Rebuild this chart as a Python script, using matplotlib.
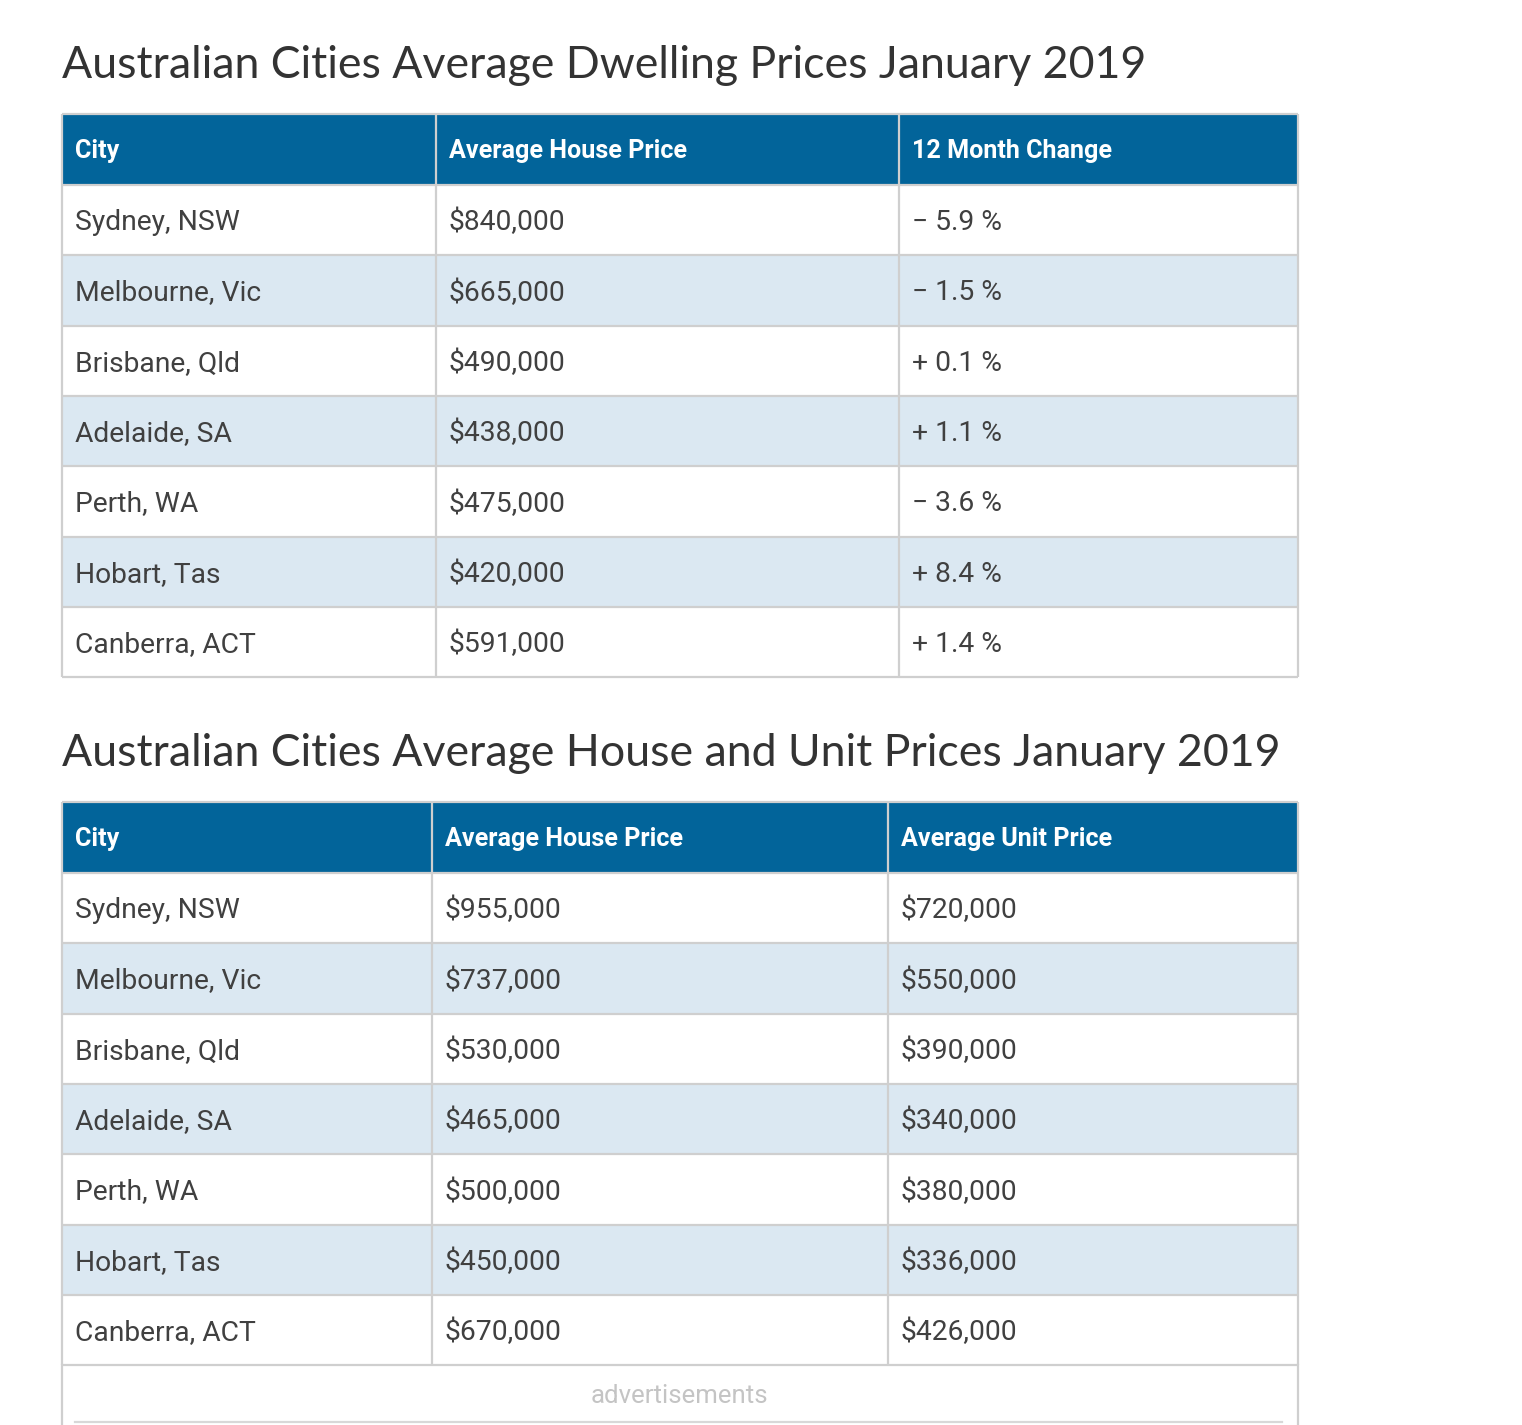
import matplotlib
matplotlib.use("Agg")
import matplotlib.pyplot as plt
from matplotlib.patches import Rectangle

# ---- data ----
title1 = "Australian Cities Average Dwelling Prices January 2019"
headers1 = ["City", "Average House Price", "12 Month Change"]
cities = ["Sydney, NSW", "Melbourne, Vic", "Brisbane, Qld", "Adelaide, SA",
          "Perth, WA", "Hobart, Tas", "Canberra, ACT"]
dwelling_price = ["$840,000", "$665,000", "$490,000", "$438,000",
                  "$475,000", "$420,000", "$591,000"]
change_12m = ["\u2212 5.9 %", "\u2212 1.5 %", "+ 0.1 %", "+ 1.1 %",
              "\u2212 3.6 %", "+ 8.4 %", "+ 1.4 %"]

title2 = "Australian Cities Average House and Unit Prices January 2019"
headers2 = ["City", "Average House Price", "Average Unit Price"]
house_price = ["$955,000", "$737,000", "$530,000", "$465,000",
               "$500,000", "$450,000", "$670,000"]
unit_price = ["$720,000", "$550,000", "$390,000", "$340,000",
              "$380,000", "$336,000", "$426,000"]
footer_text = "advertisements"

# ---- style ----
W, H = 1522, 1425
HEAD_BG = "#02649a"
ALT_BG = "#dbe8f2"
BORDER = "#cfcfcf"
TEXT = "#404040"
TITLE_C = "#333333"

fig = plt.figure(figsize=(W / 100, H / 100), dpi=100)
ax = fig.add_axes([0, 0, 1, 1])
ax.set_xlim(0, W)
ax.set_ylim(H, 0)
ax.axis("off")


def draw_table(title, title_y, top, col_x, headers, columns, row_h=70.3, head_h=71):
    ax.text(col_x[0], title_y, title, fontsize=32.1, family="Lato", color=TITLE_C,
            va="center", ha="left")
    x0, x1 = col_x[0], col_x[-1]
    # header
    ax.add_patch(Rectangle((x0, top), x1 - x0, head_h, facecolor=HEAD_BG,
                           edgecolor="none", zorder=1))
    for j, h in enumerate(headers):
        ax.text(col_x[j] + 13, top + head_h / 2 + 1.5, h, fontsize=18.1,
                family="Roboto", weight="bold", color="white",
                va="center", ha="left", zorder=3)
    n = len(columns[0])
    y = top + head_h
    for i in range(n):
        bg = ALT_BG if i % 2 == 1 else "white"
        ax.add_patch(Rectangle((x0, y), x1 - x0, row_h, facecolor=bg,
                               edgecolor="none", zorder=1))
        for j, col in enumerate(columns):
            ax.text(col_x[j] + 13, y + row_h / 2 + 2.5, col[i], fontsize=20.3,
                    family="Roboto", color=TEXT, va="center", ha="left", zorder=3)
        y += row_h
    bottom = y
    # grid lines
    ys = [top, top + head_h] + [top + head_h + row_h * (k + 1) for k in range(n)]
    for yy in ys:
        ax.plot([x0, x1], [yy, yy], color=BORDER, lw=1.6, zorder=2,
                solid_capstyle="butt")
    for xx in col_x:
        ax.plot([xx, xx], [top, bottom], color=BORDER, lw=1.6, zorder=2,
                solid_capstyle="butt")
    return bottom


draw_table(title1, 65, 114, [62, 436, 899, 1298], headers1,
           [cities, dwelling_price, change_12m])
b2 = draw_table(title2, 753, 802, [62, 432, 888, 1298], headers2,
                [cities, house_price, unit_price])

# advertisement row
ax.plot([62, 62], [b2, H], color=BORDER, lw=1.6, zorder=2)
ax.plot([1298, 1298], [b2, H], color=BORDER, lw=1.6, zorder=2)
ax.plot([75, 1282], [1422, 1422], color="#d8d8d8", lw=1.6, zorder=2)
ax.text(679, 1396, footer_text, fontsize=18.5, family="Roboto", color="#c4c4c4",
        ha="center", va="center")

fig.savefig("out.png", dpi=100, facecolor="white")
